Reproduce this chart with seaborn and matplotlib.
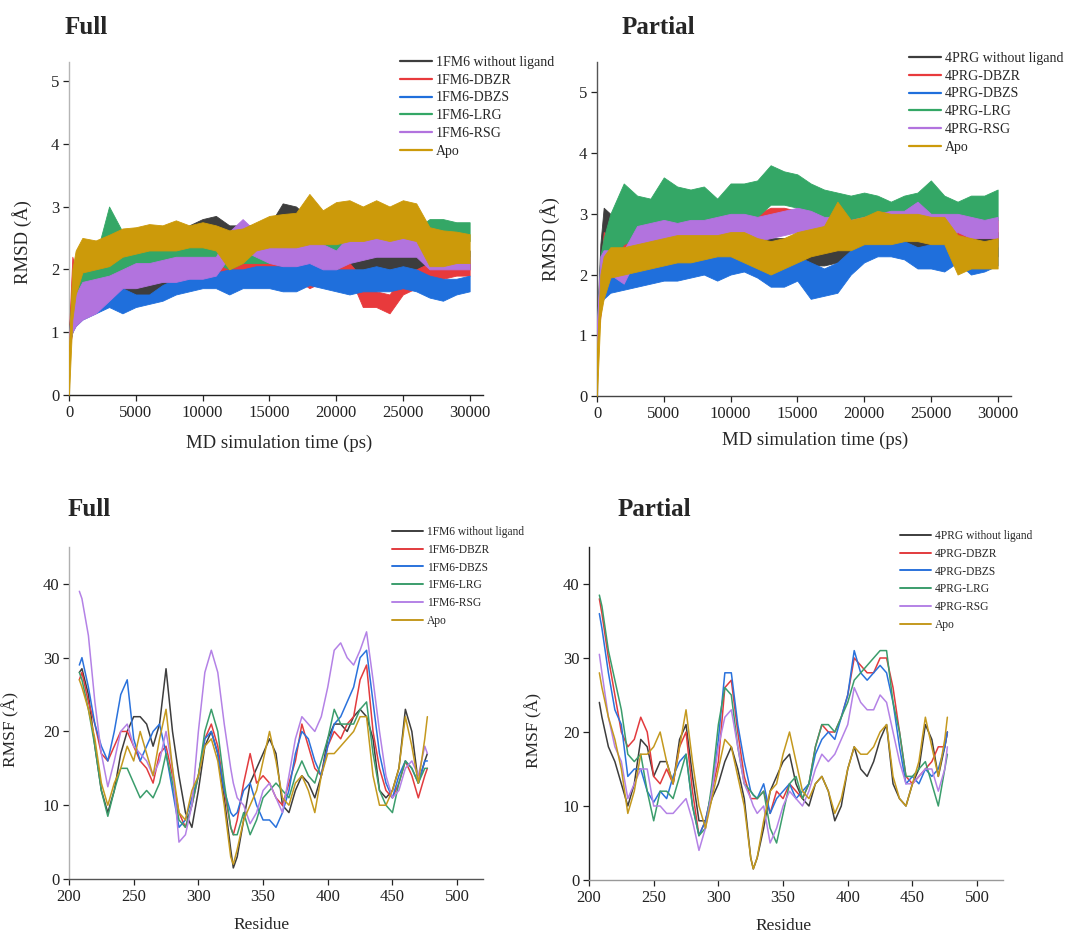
import matplotlib
matplotlib.use("Agg")
import matplotlib.pyplot as plt
from matplotlib.lines import Line2D
import pandas as pd
import seaborn as sns

sns.set_theme(style="ticks")
plt.rcParams["font.family"] = ["Liberation Serif", "DejaVu Serif"]

# ---------------- RMSD data: time (ps) and low/high envelope of each trace (Å)
rmsd_time = [0, 250, 500, 1000, 2000, 3000, 4000, 5000, 6000, 7000, 8000, 9000,
             10000, 11000, 12000, 13000, 14000, 15000, 16000, 17000, 18000,
             19000, 20000, 21000, 22000, 23000, 24000, 25000, 26000, 27000,
             28000, 29000, 30000]

full_labels = ["1FM6 without ligand", "1FM6-DBZR", "1FM6-DBZS", "1FM6-LRG", "1FM6-RSG", "Apo"]
part_labels = ["4PRG without ligand", "4PRG-DBZR", "4PRG-DBZS", "4PRG-LRG", "4PRG-RSG", "Apo"]

full_none_lo = [0.8, 1.1, 1.4, 1.6, 1.6, 1.5, 1.55, 1.55, 1.55, 1.6, 1.9, 2.2, 2.3, 2.3, 2.2, 2.2, 2.3,
                2.3, 2.4, 2.4, 2.3, 2.2, 2.1, 2.0, 2.0, 2.0, 1.9, 1.9, 1.9, 1.9, 1.9, 2.0, 2.0]
full_none_hi = [1.0, 1.8, 2.0, 2.1, 2.1, 2.0, 2.0, 1.9, 1.9, 2.0, 2.4, 2.7, 2.8, 2.85, 2.7, 2.7, 2.7,
                2.7, 3.05, 3.0, 2.8, 2.7, 2.6, 2.6, 2.5, 2.5, 2.4, 2.4, 2.4, 2.3, 2.3, 2.3, 2.3]
full_dbzr_lo = [0.7, 1.0, 1.3, 1.5, 1.6, 1.7, 1.8, 1.8, 1.85, 1.9, 1.9, 1.9, 1.9, 1.9, 1.9, 1.9, 1.9,
                1.85, 1.85, 1.85, 1.7, 1.8, 1.85, 1.9, 1.4, 1.4, 1.3, 1.6, 1.7, 1.85, 1.85, 1.9, 1.9]
full_dbzr_hi = [1.0, 2.2, 2.0, 2.0, 2.1, 2.2, 2.2, 2.2, 2.25, 2.3, 2.35, 2.3, 2.3, 2.25, 2.2, 2.2, 2.2,
                2.15, 2.15, 2.1, 2.0, 2.1, 2.15, 2.1, 1.85, 1.65, 1.6, 1.9, 2.0, 2.1, 2.1, 2.1, 2.1]
full_dbzs_lo = [0.8, 1.0, 1.1, 1.2, 1.3, 1.4, 1.3, 1.4, 1.45, 1.5, 1.6, 1.65, 1.7, 1.7, 1.6, 1.7, 1.7,
                1.7, 1.65, 1.65, 1.75, 1.7, 1.65, 1.6, 1.65, 1.65, 1.65, 1.7, 1.65, 1.55, 1.5, 1.6, 1.65]
full_dbzs_hi = [1.0, 1.5, 1.6, 1.6, 1.65, 1.7, 1.7, 1.6, 1.6, 1.75, 1.85, 1.9, 1.9, 1.95, 2.0, 2.0, 2.05,
                2.05, 2.05, 2.05, 2.15, 2.05, 2.0, 2.0, 2.0, 2.05, 2.0, 2.05, 2.0, 1.9, 1.85, 1.85, 1.9]
full_lrg_lo = [0.8, 1.0, 1.2, 1.5, 1.7, 1.9, 2.0, 2.0, 2.05, 2.05, 2.1, 2.1, 2.1, 2.1, 2.0, 2.1, 2.1,
               2.1, 2.1, 2.15, 2.2, 2.2, 2.2, 2.2, 2.2, 2.25, 2.25, 2.25, 2.3, 2.45, 2.45, 2.45, 2.45]
full_lrg_hi = [1.0, 1.7, 1.9, 2.1, 2.2, 3.0, 2.6, 2.4, 2.4, 2.4, 2.45, 2.4, 2.4, 2.4, 2.35, 2.4, 2.45,
               2.5, 2.5, 2.5, 2.55, 2.55, 2.6, 2.6, 2.6, 2.65, 2.6, 2.6, 2.65, 2.8, 2.8, 2.75, 2.75]
full_rsg_lo = [0.8, 1.0, 1.1, 1.2, 1.3, 1.5, 1.7, 1.7, 1.75, 1.8, 1.8, 1.85, 1.85, 1.9, 2.2, 2.3, 2.2,
               2.1, 2.05, 2.05, 2.1, 2.0, 2.0, 2.1, 2.15, 2.2, 2.2, 2.2, 2.2, 2.0, 2.0, 2.0, 2.0]
full_rsg_hi = [1.0, 1.5, 1.6, 1.8, 1.85, 1.9, 2.0, 2.1, 2.1, 2.15, 2.2, 2.2, 2.2, 2.2, 2.6, 2.8, 2.6,
               2.4, 2.4, 2.4, 2.5, 2.4, 2.3, 2.55, 2.45, 2.5, 2.5, 2.5, 2.5, 2.3, 2.3, 2.3, 2.2]
full_apo_lo = [0.0, 1.2, 1.6, 1.95, 2.0, 2.05, 2.2, 2.25, 2.3, 2.3, 2.3, 2.35, 2.35, 2.3, 2.0, 2.1, 2.3,
               2.35, 2.35, 2.35, 2.4, 2.4, 2.4, 2.45, 2.45, 2.5, 2.45, 2.5, 2.45, 2.05, 2.05, 2.1, 2.1]
full_apo_hi = [0.8, 2.0, 2.3, 2.5, 2.46, 2.55, 2.65, 2.67, 2.72, 2.7, 2.78, 2.7, 2.75, 2.7, 2.62, 2.65, 2.75,
               2.85, 2.88, 2.9, 3.2, 2.94, 3.07, 3.1, 3.0, 3.1, 3.0, 3.1, 3.05, 2.67, 2.62, 2.6, 2.56]

part_none_lo = [0.8, 1.5, 2.0, 2.4, 2.3, 2.5, 2.4, 2.2, 2.2, 2.25, 2.3, 2.3, 2.3, 2.3, 2.3, 2.25, 2.3,
                2.25, 2.15, 2.15, 2.2, 2.15, 2.3, 2.4, 2.4, 2.45, 2.45, 2.4, 2.4, 2.3, 2.3, 2.3, 2.3]
part_none_hi = [1.2, 2.5, 3.1, 3.0, 2.9, 3.1, 2.8, 2.6, 2.6, 2.65, 2.7, 2.7, 2.7, 2.6, 2.6, 2.6, 2.6,
                2.55, 2.5, 2.5, 2.5, 2.45, 2.6, 2.75, 2.8, 2.8, 2.8, 2.8, 2.8, 2.7, 2.7, 2.7, 2.7]
part_dbzr_lo = [0.8, 1.3, 1.8, 2.1, 2.3, 2.4, 2.5, 2.5, 2.55, 2.55, 2.6, 2.6, 2.6, 2.6, 2.6, 2.7, 2.75,
                2.7, 2.7, 2.6, 2.6, 2.6, 2.6, 2.6, 2.65, 2.65, 2.7, 2.6, 2.6, 2.6, 2.6, 2.6, 2.6]
part_dbzr_hi = [1.2, 2.0, 2.7, 2.6, 2.7, 2.8, 2.85, 2.9, 2.9, 2.95, 3.0, 3.2, 3.0, 3.0, 3.0, 3.1, 3.1,
                3.05, 3.05, 2.95, 2.95, 2.9, 2.95, 2.95, 3.0, 3.0, 3.05, 3.0, 3.0, 3.0, 2.95, 2.9, 2.9]
part_dbzs_lo = [0.8, 1.5, 1.6, 1.7, 1.75, 1.8, 1.85, 1.9, 1.9, 1.95, 2.0, 1.9, 2.0, 2.05, 1.95, 1.8, 1.8,
                1.9, 1.6, 1.65, 1.7, 2.0, 2.2, 2.3, 2.3, 2.25, 2.1, 2.1, 2.05, 2.2, 2.0, 2.05, 2.15]
part_dbzs_hi = [1.2, 2.2, 2.3, 2.2, 2.2, 2.2, 2.25, 2.3, 2.35, 2.35, 2.4, 2.3, 2.35, 2.4, 2.35, 2.2, 2.2,
                2.3, 2.2, 2.1, 2.2, 2.4, 2.5, 2.6, 2.55, 2.55, 2.45, 2.5, 2.5, 2.5, 2.4, 2.35, 2.45]
part_lrg_lo = [0.8, 1.5, 1.8, 2.2, 2.5, 2.6, 2.6, 2.7, 2.7, 2.75, 2.8, 2.8, 2.9, 2.9, 2.95, 3.15, 3.15,
               3.1, 3.0, 2.9, 2.85, 2.85, 2.9, 2.9, 2.9, 2.95, 2.95, 3.0, 2.9, 2.8, 2.8, 2.85, 2.9]
part_lrg_hi = [1.2, 2.3, 2.6, 3.0, 3.5, 3.3, 3.25, 3.6, 3.45, 3.4, 3.45, 3.25, 3.5, 3.5, 3.55, 3.8, 3.7,
               3.65, 3.5, 3.4, 3.35, 3.3, 3.35, 3.3, 3.2, 3.3, 3.35, 3.55, 3.3, 3.2, 3.3, 3.3, 3.4]
part_rsg_lo = [0.8, 1.6, 1.9, 2.0, 1.85, 2.3, 2.45, 2.5, 2.5, 2.55, 2.6, 2.6, 2.6, 2.6, 2.55, 2.6, 2.65,
               2.7, 2.7, 2.6, 2.6, 2.6, 2.6, 2.65, 2.7, 2.7, 2.75, 2.6, 2.6, 2.7, 2.6, 2.6, 2.6]
part_rsg_hi = [1.2, 2.3, 2.4, 2.4, 2.4, 2.8, 2.85, 2.9, 2.85, 2.9, 2.9, 2.95, 3.0, 3.0, 2.95, 3.0, 3.05,
               3.1, 3.05, 2.95, 2.95, 2.9, 2.95, 3.0, 3.05, 3.05, 3.2, 3.0, 3.0, 3.0, 2.95, 2.9, 2.95]
part_apo_lo = [0.0, 1.3, 1.6, 1.95, 2.0, 2.05, 2.1, 2.15, 2.2, 2.2, 2.25, 2.3, 2.3, 2.2, 2.1, 2.0, 2.1,
               2.2, 2.3, 2.35, 2.4, 2.4, 2.5, 2.5, 2.5, 2.55, 2.55, 2.5, 2.5, 2.0, 2.1, 2.1, 2.1]
part_apo_hi = [0.8, 2.0, 2.3, 2.45, 2.45, 2.5, 2.55, 2.6, 2.65, 2.65, 2.65, 2.65, 2.7, 2.7, 2.6, 2.55, 2.6,
               2.7, 2.75, 2.8, 3.2, 2.9, 2.95, 3.05, 3.0, 3.0, 3.0, 2.95, 2.95, 2.65, 2.6, 2.55, 2.6]

# ---------------- RMSF data: residue number and per-residue fluctuation (Å)
residues = [208, 210, 215, 220, 225, 230, 235, 240, 245, 250, 255, 260, 265, 270, 275, 280, 285,
            290, 295, 300, 305, 310, 315, 320, 325, 327, 330, 335, 340, 345, 350, 355, 360, 365,
            370, 375, 380, 385, 390, 395, 400, 405, 410, 415, 420, 425, 430, 435, 440, 445, 450,
            455, 460, 465, 470, 475, 477]

fl_none = [28, 28.5, 25, 18, 12, 9, 12, 17, 20, 22, 22, 21, 18, 21, 28.5, 20, 14, 9, 7, 12, 18, 20, 17,
           11, 4, 1.5, 3, 8, 13, 15, 17, 19, 17, 10, 9, 12, 14, 13, 11, 14, 19, 21, 21, 20, 22, 23,
           22, 19, 12, 11, 12, 15, 23, 20, 13, 16, 17]
fl_dbzr = [27, 28, 24, 21, 17, 16, 18, 20, 20, 18, 16, 15, 13, 17, 18, 14, 9, 7, 10, 14, 19, 21, 18,
           12, 7, 6, 8, 13, 17, 13, 14, 13, 11, 10, 13, 16, 21, 18, 15, 14, 18, 20, 19, 21, 22, 27,
           29, 20, 15, 12, 11, 13, 16, 14, 11, 14, 15]
fl_dbzs = [29, 30, 26, 21, 18, 16, 20, 25, 27, 19, 16, 18, 20, 21, 17, 12, 7, 8, 11, 14, 19, 20, 17,
           12, 9, 8.5, 9, 12, 13, 10, 8, 8, 7, 9, 12, 17, 20, 19, 16, 14, 18, 21, 22, 24, 26, 30,
           31, 24, 17, 13, 11, 14, 16, 15, 13, 16, 16]
fl_lrg = [28, 27, 23, 18, 12, 8.5, 12, 15, 15, 13, 11, 12, 11, 13, 17, 13, 8, 7, 10, 14, 20, 23, 20,
          13, 7, 6, 6, 9, 6, 8, 11, 12, 13, 12, 11, 14, 16, 14, 13, 16, 19, 23, 21, 21, 21, 23,
          24, 17, 12, 10, 9, 13, 16, 15, 13, 15, 15]
fl_rsg = [39, 38, 33, 24, 17, 12.5, 16, 20, 21, 18, 17, 16, 14, 16, 20, 15, 5, 6, 10, 20, 28, 31, 28,
          21, 15, 13, 11, 10, 7.5, 9, 12, 13, 11, 9, 14, 19, 22, 21, 20, 22, 26, 31, 32, 30, 29, 31,
          33.5, 27, 20, 14, 11, 12, 15, 16, 14, 18, 17]
fl_apo = [27, 26, 23, 19, 13, 10, 13, 15, 18, 16, 20, 17, 14, 19, 23, 15, 9, 8, 12, 14, 18, 19, 16,
          10, 3, 2, 4, 8, 10, 12, 16, 20, 16, 11, 10, 13, 14, 12, 9, 14, 17, 17, 18, 19, 20, 22,
          22, 14, 10, 10, 12, 15, 22, 18, 13, 19, 22]

pa_none = [24, 22, 18, 16, 13, 10, 13, 19, 18, 14, 16, 16, 13, 19, 21, 14, 8, 8, 11, 13, 16, 18, 15,
           11, 3, 1.5, 3, 7, 12, 14, 16, 17, 13, 11, 10, 13, 14, 12, 8, 10, 15, 18, 15, 14, 16, 19,
           21, 13, 11, 10, 13, 15, 21, 19, 14, 18, 20]
pa_dbzr = [38, 36, 30, 25, 20, 18, 19, 22, 20, 14, 13, 15, 13, 18, 20, 12, 6, 8, 12, 16, 26, 27, 20,
           14, 11, 11, 11, 12, 9, 12, 11, 13, 12, 11, 13, 18, 21, 20, 20, 22, 25, 30, 29, 28, 28, 30,
           30, 26, 20, 14, 13, 14, 15, 16, 18, 18, 20]
pa_dbzs = [36, 34, 28, 23, 21, 14, 15, 15, 12, 10.5, 12, 11, 14, 16, 17, 10, 6, 8, 12, 19, 28, 28, 21,
           16, 12, 11.5, 11, 13, 9, 11, 12, 13, 11, 12, 13, 17, 19, 20, 19, 22, 25, 31, 28, 27, 28, 29,
           28, 24, 18, 13, 14, 13, 15, 14, 15, 18, 20]
pa_lrg = [38.5, 37, 31, 27, 23, 17, 16, 17, 12, 8, 12, 12, 11, 14, 17, 10, 6, 7, 13, 21, 26, 25, 18,
          13, 12, 11.5, 11, 12, 7, 5, 9, 13, 14, 11, 13, 18, 21, 21, 20, 22, 24, 27, 28, 29, 30, 31,
          31, 24, 20, 14, 14, 15, 16, 13, 10, 15, 17]
pa_rsg = [30.5, 28, 22, 18, 16, 11, 13, 15, 15, 10, 10, 9, 9, 10, 11, 8, 4, 7, 12, 18, 22, 23, 18,
          13, 11, 10, 9, 10, 5, 7, 10, 12, 11, 10, 12, 15, 17, 16, 17, 19, 21, 26, 24, 23, 23, 25,
          24, 20, 16, 13, 13, 14, 15, 15, 12, 15, 18]
pa_apo = [28, 26, 22, 19, 15, 9, 12, 17, 17, 18, 20, 16, 13, 18, 23, 16, 10, 7, 11, 15, 19, 18, 14,
          10, 3, 1.5, 3, 8, 12, 13, 17, 20, 16, 12, 11, 13, 14, 12, 9, 11, 15, 18, 17, 17, 18, 20,
          21, 14, 11, 10, 13, 16, 22, 18, 14, 19, 22]

# Series colours (same order as the legend entries)
rmsd_colors = ["#3d3d3d", "#e83a3c", "#1f6fdc", "#34a766", "#b273de", "#cc9a0a"]
rmsf_colors = ["#3d3d3d", "#e23b3e", "#2a72dc", "#3b9d6c", "#b482e6", "#c4991e"]

W, H = 1068, 934
fig = plt.figure(figsize=(W / 100, H / 100), dpi=100)


def rect(left, top, width, height):
    return [left / W, 1 - (top + height) / H, width / W, height / H]


def style_axes(ax, left_spine, bottom_spine):
    sns.despine(ax=ax)
    ax.spines["left"].set_color(left_spine)
    ax.spines["bottom"].set_color(bottom_spine)
    ax.spines["left"].set_linewidth(1.0)
    ax.spines["bottom"].set_linewidth(1.0)
    ax.tick_params(direction="out", length=4, width=0.9, labelsize=12, pad=3,
                   colors="#222222")
    ax.grid(False)


def draw_rmsd(ax, los, his, ymax):
    for k, (lo, hi, col) in enumerate(zip(los, his, rmsd_colors)):
        df = pd.DataFrame({"time": rmsd_time + rmsd_time, "rmsd": lo + hi})
        sns.lineplot(data=df, x="time", y="rmsd", color=col, estimator="mean",
                     errorbar=("pi", 100), lw=0.6, zorder=3 + k, ax=ax, legend=False,
                     err_kws={"alpha": 1.0, "linewidth": 0.6, "edgecolor": col, "zorder": 3 + k})
    ax.set_xlim(0, 31000)
    ax.set_ylim(0, ymax)
    ax.set_xticks([0, 5000, 10000, 15000, 20000, 25000, 30000])
    ax.set_yticks([0, 1, 2, 3, 4, 5])
    ax.set_xlabel("MD simulation time (ps)", fontsize=13.5, va="center")
    ax.set_ylabel("RMSD (Å)", fontsize=13.5, va="center")


def draw_rmsf(ax, series, labels):
    frames = [pd.DataFrame({"residue": residues, "rmsf": vals, "system": lab})
              for vals, lab in zip(series, labels)]
    df = pd.concat(frames, ignore_index=True)
    sns.lineplot(data=df, x="residue", y="rmsf", hue="system", hue_order=labels,
                 palette=rmsf_colors, lw=1.1, ax=ax, legend=False)
    ax.set_xlim(200, 520)
    ax.set_ylim(0, 45)
    ax.set_xticks([200, 250, 300, 350, 400, 450, 500])
    ax.set_yticks([0, 10, 20, 30, 40])
    ax.set_xlabel("Residue", fontsize=12.5, va="center")
    ax.set_ylabel("RMSF (Å)", fontsize=12.5, va="center")


def add_legend(labels, colors, x, y, fs, lw, hl, ls):
    handles = [Line2D([], [], color=c, lw=lw) for c in colors]
    fig.legend(handles, labels, loc="upper left", bbox_to_anchor=(x / W, 1 - y / H),
               frameon=False, fontsize=fs, handlelength=hl, handletextpad=0.3,
               labelspacing=ls, borderpad=0, borderaxespad=0)


ax_tl = fig.add_axes(rect(69, 62, 414, 333))
ax_tr = fig.add_axes(rect(597, 62, 414, 334))
ax_bl = fig.add_axes(rect(69, 547, 414, 332))
ax_br = fig.add_axes(rect(589, 547, 414, 333))

draw_rmsd(ax_tl,
          [full_none_lo, full_dbzr_lo, full_dbzs_lo, full_lrg_lo, full_rsg_lo, full_apo_lo],
          [full_none_hi, full_dbzr_hi, full_dbzs_hi, full_lrg_hi, full_rsg_hi, full_apo_hi], 5.3)
draw_rmsd(ax_tr,
          [part_none_lo, part_dbzr_lo, part_dbzs_lo, part_lrg_lo, part_rsg_lo, part_apo_lo],
          [part_none_hi, part_dbzr_hi, part_dbzs_hi, part_lrg_hi, part_rsg_hi, part_apo_hi], 5.5)
draw_rmsf(ax_bl, [fl_none, fl_dbzr, fl_dbzs, fl_lrg, fl_rsg, fl_apo], full_labels)
draw_rmsf(ax_br, [pa_none, pa_dbzr, pa_dbzs, pa_lrg, pa_rsg, pa_apo], part_labels)

style_axes(ax_tl, "#b5b5b5", "#222222")
style_axes(ax_tr, "#555555", "#444444")
style_axes(ax_bl, "#b0b0b0", "#555555")
style_axes(ax_br, "#222222", "#999999")

# axis label placement
ax_tl.xaxis.set_label_coords(0.507, -0.144)
ax_tr.xaxis.set_label_coords(0.527, -0.132)
ax_bl.xaxis.set_label_coords(0.466, -0.139)
ax_br.xaxis.set_label_coords(0.469, -0.139)
ax_tl.yaxis.set_label_coords(-0.113, 0.46)
ax_tr.yaxis.set_label_coords(-0.113, 0.47)
ax_bl.yaxis.set_label_coords(-0.142, 0.45)
ax_br.yaxis.set_label_coords(-0.133, 0.45)

# panel titles
for x, y, t in [(65, 27, "Full"), (622, 27, "Partial"), (68, 509, "Full"), (618, 510, "Partial")]:
    fig.text(x / W, 1 - y / H, t, fontsize=18, fontweight="bold", va="center", ha="left")

add_legend(full_labels, rmsd_colors, 400, 56, 10, 1.6, 2.3, 0.34)
add_legend(part_labels, rmsd_colors, 909, 52, 10, 1.6, 2.3, 0.34)
add_legend(full_labels, rmsf_colors, 392, 526, 8.3, 1.4, 2.7, 0.5)
add_legend(part_labels, rmsf_colors, 900, 530, 8.3, 1.4, 2.7, 0.5)

fig.savefig("out.png", dpi=100)
